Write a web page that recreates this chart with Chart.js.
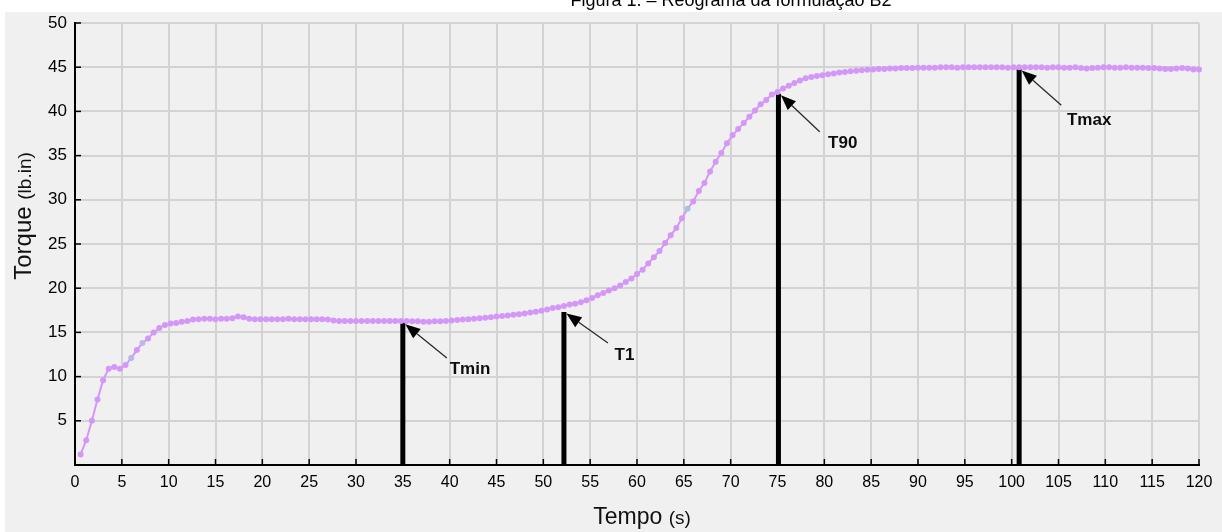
<!DOCTYPE html>
<html lang="pt">
<head>
<meta charset="utf-8">
<title>Reograma da formulação B2</title>
<script src="https://cdn.jsdelivr.net/npm/chart.js@4.4.1/dist/chart.umd.min.js"></script>
<style>
  html, body { margin: 0; padding: 0; background: #fff; }
  #grafico { display: block; }
</style>
</head>
<body>
<canvas id="grafico" width="1222" height="532"></canvas>
<script>
// tempo (s) de cada leitura do reômetro
const tempo = [
  0.6, 1.2, 1.8, 2.4, 3.0, 3.6, 4.2, 4.8, 5.4, 6.0,
  6.6, 7.2, 7.8, 8.4, 9.0, 9.6, 10.2, 10.8, 11.4, 12.0,
  12.6, 13.2, 13.8, 14.4, 15.0, 15.6, 16.2, 16.8, 17.4, 18.0,
  18.6, 19.2, 19.8, 20.4, 21.0, 21.6, 22.2, 22.8, 23.4, 24.0,
  24.6, 25.2, 25.8, 26.4, 27.0, 27.6, 28.2, 28.8, 29.4, 30.0,
  30.6, 31.2, 31.8, 32.4, 33.0, 33.6, 34.2, 34.8, 35.4, 36.0,
  36.6, 37.2, 37.8, 38.4, 39.0, 39.6, 40.2, 40.8, 41.4, 42.0,
  42.6, 43.2, 43.8, 44.4, 45.0, 45.6, 46.2, 46.8, 47.4, 48.0,
  48.6, 49.2, 49.8, 50.4, 51.0, 51.6, 52.2, 52.8, 53.4, 54.0,
  54.6, 55.2, 55.8, 56.4, 57.0, 57.6, 58.2, 58.8, 59.4, 60.0,
  60.6, 61.2, 61.8, 62.4, 63.0, 63.6, 64.2, 64.8, 65.4, 66.0,
  66.6, 67.2, 67.8, 68.4, 69.0, 69.6, 70.2, 70.8, 71.4, 72.0,
  72.6, 73.2, 73.8, 74.4, 75.0, 75.6, 76.2, 76.8, 77.4, 78.0,
  78.6, 79.2, 79.8, 80.4, 81.0, 81.6, 82.2, 82.8, 83.4, 84.0,
  84.6, 85.2, 85.8, 86.4, 87.0, 87.6, 88.2, 88.8, 89.4, 90.0,
  90.6, 91.2, 91.8, 92.4, 93.0, 93.6, 94.2, 94.8, 95.4, 96.0,
  96.6, 97.2, 97.8, 98.4, 99.0, 99.6, 100.2, 100.8, 101.4, 102.0,
  102.6, 103.2, 103.8, 104.4, 105.0, 105.6, 106.2, 106.8, 107.4, 108.0,
  108.6, 109.2, 109.8, 110.4, 111.0, 111.6, 112.2, 112.8, 113.4, 114.0,
  114.6, 115.2, 115.8, 116.4, 117.0, 117.6, 118.2, 118.8, 119.4, 120.0
];

// torque (lb.in)
const torque = [
  1.2, 2.8, 5.0, 7.4, 9.6, 10.9, 11.1, 10.9, 11.3, 12.1,
  13.0, 13.8, 14.3, 15.0, 15.5, 15.85, 16.0, 16.05, 16.2, 16.3,
  16.45, 16.5, 16.55, 16.55, 16.5, 16.55, 16.55, 16.6, 16.8, 16.7,
  16.55, 16.5, 16.5, 16.5, 16.5, 16.5, 16.5, 16.55, 16.5, 16.5,
  16.5, 16.5, 16.5, 16.5, 16.45, 16.35, 16.3, 16.3, 16.3, 16.3,
  16.3, 16.3, 16.3, 16.3, 16.3, 16.3, 16.3, 16.3, 16.3, 16.25,
  16.25, 16.2, 16.2, 16.25, 16.25, 16.3, 16.35, 16.4, 16.45, 16.5,
  16.55, 16.6, 16.65, 16.7, 16.8, 16.85, 16.9, 17.0, 17.05, 17.15,
  17.25, 17.35, 17.45, 17.6, 17.75, 17.85, 18.0, 18.15, 18.25, 18.4,
  18.65, 18.9, 19.2, 19.45, 19.75, 20.0, 20.3, 20.7, 21.1, 21.6,
  22.1, 22.8, 23.5, 24.2, 25.1, 26.0, 26.8, 27.9, 29.0, 29.8,
  31.0, 31.9, 33.2, 34.3, 35.3, 36.4, 37.3, 38.0, 38.7, 39.4,
  40.1, 40.8, 41.3, 41.9, 42.2, 42.6, 42.9, 43.2, 43.5, 43.75,
  43.9, 44.0, 44.1, 44.2, 44.3, 44.4, 44.45, 44.55, 44.6, 44.65,
  44.7, 44.75, 44.8, 44.8, 44.85, 44.85, 44.9, 44.9, 44.9, 44.95,
  44.95, 44.95, 44.95, 45.0, 45.0, 45.0, 44.95, 45.0, 45.0, 45.0,
  45.0, 45.0, 45.0, 45.0, 45.0, 44.95, 45.0, 45.0, 45.0, 45.0,
  45.0, 45.0, 44.95, 45.0, 45.0, 44.95, 44.95, 45.0, 44.9, 44.85,
  44.9, 44.95, 45.0, 45.0, 44.95, 44.95, 45.0, 44.95, 44.95, 44.95,
  44.9, 44.9, 44.85, 44.8, 44.8, 44.85, 44.9, 44.85, 44.75, 44.75
];

// pontos marcados na curva (Tmin, T1, T90, Tmax)
const marcadores = ['Tmin', 'T1', 'T90', 'Tmax'];
const marcadoresTempo = [35.0, 52.2, 75.1, 100.8];
const marcadoresTorque = [16.1, 17.3, 42.0, 44.8];

// ticks dos eixos
const ticksX = [0, 5, 10, 15, 20, 25, 30, 35, 40, 45, 50, 55, 60, 65, 70, 75, 80, 85, 90, 95, 100, 105, 110, 115, 120];
const ticksY = [5, 10, 15, 20, 25, 30, 35, 40, 45, 50];

// posição das setas e dos textos (unidades do gráfico)
const setas = {
  Tmin: { cauda: [39.7, 12.1], texto: [40.0, 10.8] },
  T1:   { cauda: [56.9, 13.8], texto: [57.6, 12.4] },
  T90:  { cauda: [79.5, 37.7], texto: [80.4, 36.4] },
  Tmax: { cauda: [105.3, 40.7], texto: [105.9, 39.0] }
};

const FONTE = '"Liberation Sans", Arial, sans-serif';
const corCurva = '#d597f7';
// algumas leituras aparecem com outra cor no original
const pontosOutraCor = { 9: '#b7b8e4', 11: '#c2b6ee', 108: '#a9c3de' };

// fundo cinza da janela + título cortado no topo + títulos dos eixos
const fundoETitulos = {
  id: 'fundoETitulos',
  beforeDraw(chart) {
    const ctx = chart.ctx;
    ctx.save();
    ctx.fillStyle = '#ffffff';
    ctx.fillRect(0, 0, chart.width, chart.height);
    ctx.fillStyle = '#000';
    ctx.font = '18px ' + FONTE;
    ctx.textAlign = 'center';
    ctx.textBaseline = 'alphabetic';
    ctx.fillText('Figura 1. – Reograma da formulação B2', 731, 6);
    ctx.fillStyle = '#f0f0f0';
    ctx.fillRect(5, 12, chart.width - 5, chart.height - 12);
    ctx.restore();
  },
  afterDraw(chart) {
    const ctx = chart.ctx;
    ctx.save();
    ctx.fillStyle = '#111';
    ctx.textBaseline = 'alphabetic';
    ctx.textAlign = 'left';

    // eixo y: "Torque (lb.in)"
    ctx.translate(31, 216);
    ctx.rotate(-Math.PI / 2);
    ctx.font = '24px ' + FONTE;
    const w1 = ctx.measureText('Torque ').width;
    ctx.font = '19px ' + FONTE;
    const w2 = ctx.measureText('(lb.in)').width;
    let x0 = -(w1 + w2) / 2;
    ctx.font = '24px ' + FONTE;
    ctx.fillText('Torque ', x0, 0);
    ctx.font = '19px ' + FONTE;
    ctx.fillText('(lb.in)', x0 + w1, 0);
    ctx.setTransform(1, 0, 0, 1, 0, 0);

    // eixo x: "Tempo (s)"
    ctx.font = '23px ' + FONTE;
    const w3 = ctx.measureText('Tempo ').width;
    ctx.font = '19px ' + FONTE;
    const w4 = ctx.measureText('(s)').width;
    x0 = 642 - (w3 + w4) / 2;
    ctx.font = '23px ' + FONTE;
    ctx.fillText('Tempo ', x0, 524);
    ctx.font = '19px ' + FONTE;
    ctx.fillText('(s)', x0 + w3, 524);
    ctx.restore();
  }
};

// marcas dos ticks voltadas para dentro, setas e rótulos
const setasEMarcas = {
  id: 'setasEMarcas',
  afterDatasetsDraw(chart) {
    const ctx = chart.ctx;
    const sx = chart.scales.x;
    const sy = chart.scales.y;
    const area = chart.chartArea;
    ctx.save();

    ctx.strokeStyle = '#000';
    ctx.lineWidth = 1.5;
    ticksY.forEach(v => {
      const py = sy.getPixelForValue(v);
      ctx.beginPath();
      ctx.moveTo(area.left, py);
      ctx.lineTo(area.left + 6, py);
      ctx.stroke();
    });
    ticksX.forEach(v => {
      const px = sx.getPixelForValue(v);
      ctx.beginPath();
      ctx.moveTo(px, area.bottom);
      ctx.lineTo(px, area.bottom - 6);
      ctx.stroke();
    });

    marcadores.forEach((nome, i) => {
      const s = setas[nome];
      const ponta = [sx.getPixelForValue(marcadoresTempo[i]) + 2.5, sy.getPixelForValue(marcadoresTorque[i]) + 1.5];
      const cauda = [sx.getPixelForValue(s.cauda[0]), sy.getPixelForValue(s.cauda[1])];
      const ang = Math.atan2(ponta[1] - cauda[1], ponta[0] - cauda[0]);
      const comp = 15, larg = 6;
      const base = [ponta[0] - comp * Math.cos(ang), ponta[1] - comp * Math.sin(ang)];

      ctx.strokeStyle = '#2a2a2a';
      ctx.lineWidth = 1.3;
      ctx.beginPath();
      ctx.moveTo(cauda[0], cauda[1]);
      ctx.lineTo(base[0], base[1]);
      ctx.stroke();

      ctx.fillStyle = '#000';
      ctx.beginPath();
      ctx.moveTo(ponta[0], ponta[1]);
      ctx.lineTo(base[0] + larg * Math.sin(ang), base[1] - larg * Math.cos(ang));
      ctx.lineTo(base[0] - larg * Math.sin(ang), base[1] + larg * Math.cos(ang));
      ctx.closePath();
      ctx.fill();

      ctx.font = 'bold 17px ' + FONTE;
      ctx.textAlign = 'left';
      ctx.textBaseline = 'middle';
      ctx.fillStyle = '#0d0d0d';
      ctx.fillText(nome, sx.getPixelForValue(s.texto[0]), sy.getPixelForValue(s.texto[1]));
    });
    ctx.restore();
  }
};

const pontosCurva = tempo.map((t, i) => ({ x: t, y: torque[i] }));

const barras = marcadores.map((nome, i) => ({
  label: nome,
  data: [{ x: marcadoresTempo[i], y: 0 }, { x: marcadoresTempo[i], y: marcadoresTorque[i] }],
  borderColor: '#000',
  borderWidth: 5,
  borderCapStyle: 'butt',
  pointRadius: 0,
  clip: 3
}));

new Chart(document.getElementById('grafico'), {
  type: 'line',
  data: {
    datasets: [{
      label: 'Torque',
      data: pontosCurva,
      borderColor: corCurva,
      backgroundColor: corCurva,
      borderWidth: 2,
      pointRadius: 3,
      pointBorderWidth: 0,
      pointBackgroundColor: ctx => pontosOutraCor[ctx.dataIndex] || corCurva,
      tension: 0,
      clip: 4
    }, ...barras]
  },
  options: {
    responsive: false,
    animation: false,
    devicePixelRatio: 1,
    layout: { padding: { left: 0, top: 23, right: 23, bottom: 0 } },
    plugins: {
      legend: { display: false },
      tooltip: { enabled: false }
    },
    scales: {
      x: {
        type: 'linear',
        min: 0,
        max: 120,
        afterBuildTicks: escala => { escala.ticks = ticksX.map(v => ({ value: v })); },
        afterFit: escala => { escala.height = 67; },
        grid: { color: '#d3d3d3', lineWidth: 2, drawTicks: false },
        border: { display: true, color: '#000', width: 2 },
        ticks: {
          autoSkip: false,
          maxRotation: 0,
          padding: 8,
          color: '#000',
          font: { family: FONTE, size: 16 }
        }
      },
      y: {
        type: 'linear',
        min: 0,
        max: 50,
        afterBuildTicks: escala => { escala.ticks = ticksY.map(v => ({ value: v })); },
        afterFit: escala => { escala.width = 75; },
        grid: { color: '#d3d3d3', lineWidth: 2, drawTicks: false },
        border: { display: true, color: '#000', width: 2 },
        ticks: {
          padding: 8,
          color: '#000',
          font: { family: FONTE, size: 17 }
        }
      }
    }
  },
  plugins: [fundoETitulos, setasEMarcas]
});
</script>
</body>
</html>
